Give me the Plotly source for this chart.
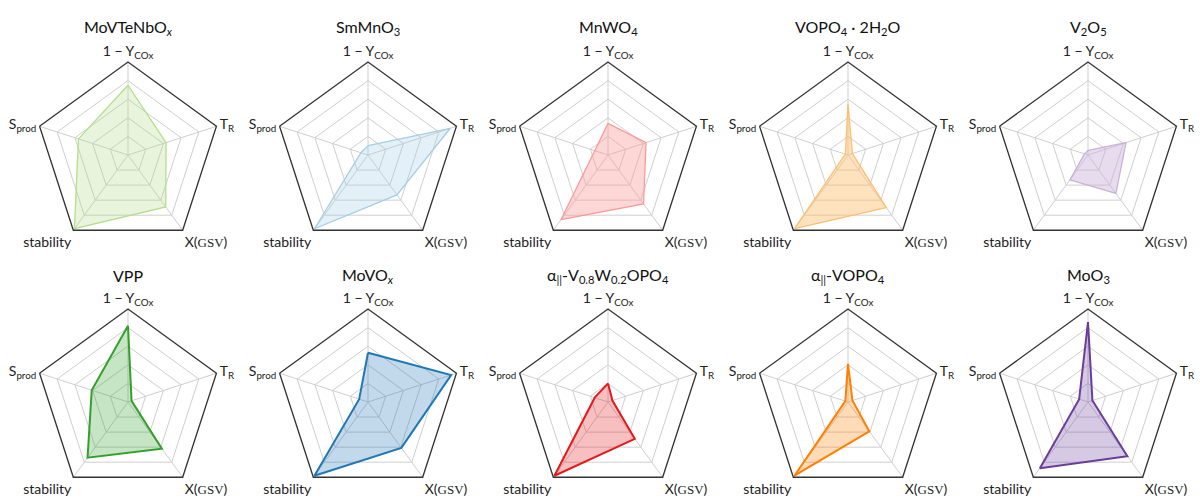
import plotly.graph_objects as go

axes_labels = [
    "1 − Y<sub>COx</sub>",
    "T<sub>R</sub>",
    "X(<span style='font-family:Liberation Serif;font-size:13px'>GSV</span>)",
    "stability",
    "S<sub>prod</sub>",
]

titles = [
    "MoVTeNbO<sub><i>x</i></sub>",
    "SmMnO<sub>3</sub>",
    "MnWO<sub>4</sub>",
    "VOPO<sub>4</sub> · 2H<sub>2</sub>O",
    "V<sub>2</sub>O<sub>5</sub>",
    "VPP",
    "MoVO<sub><i>x</i></sub>",
    "α<sub>||</sub>-V<sub>0.8</sub>W<sub>0.2</sub>OPO<sub>4</sub>",
    "α<sub>||</sub>-VOPO<sub>4</sub>",
    "MoO<sub>3</sub>",
]

# values per catalyst: [1-Y_COx, T_R, X(GSV), stability, S_prod]
movtenbox = [0.75, 0.43, 0.69, 0.98, 0.56]
smmno3 = [0.10, 0.93, 0.53, 0.98, 0.08]
mnwo4 = [0.34, 0.43, 0.65, 0.86, 0.15]
vopo4_2h2o = [0.55, 0.05, 0.70, 0.98, 0.03]
v2o5 = [0.05, 0.43, 0.51, 0.33, 0.04]
vpp = [0.82, 0.04, 0.62, 0.74, 0.41]
movox = [0.53, 0.94, 0.61, 0.98, 0.10]
avwopo4 = [0.20, 0.05, 0.49, 0.98, 0.15]
avopo4 = [0.41, 0.05, 0.39, 0.98, 0.03]
moo3 = [0.86, 0.05, 0.72, 0.88, 0.10]

series = [movtenbox, smmno3, mnwo4, vopo4_2h2o, v2o5, vpp, movox, avwopo4, avopo4, moo3]

line_colors = ["#b2df8a", "#a6cee3", "#fb9a99", "#fdbf6f", "#cab2d6",
               "#33a02c", "#1f78b4", "#e31a1c", "#ff7f00", "#6a3d9a"]
fill_colors = ["rgba(178,223,138,0.3)", "rgba(166,206,227,0.3)", "rgba(251,154,153,0.4)",
               "rgba(253,191,111,0.45)", "rgba(202,178,214,0.45)",
               "rgba(51,160,44,0.28)", "rgba(31,120,180,0.28)", "rgba(227,26,28,0.28)",
               "rgba(255,127,0,0.28)", "rgba(106,61,154,0.28)"]

W, H = 1200, 498
R = 93
centers_x = [128 + 240 * i for i in range(5)]
centers_y = [155, 402]
title_y = [27, 275]

fig = go.Figure()
annotations = []
layout_polars = {}
for k in range(10):
    row, col = divmod(k, 5)
    cx, cy = centers_x[col], centers_y[row]
    name = "polar" if k == 0 else f"polar{k+1}"
    vals = series[k]
    fig.add_trace(go.Scatterpolar(
        r=vals + [vals[0]],
        theta=axes_labels + [axes_labels[0]],
        mode="lines",
        fill="toself",
        fillcolor=fill_colors[k],
        line=dict(color=line_colors[k], width=1.3 if row == 0 else 2),
        subplot=name,
        showlegend=False,
    ))
    layout_polars[name] = dict(
        domain=dict(x=[(cx - R) / W, (cx + R) / W], y=[1 - (cy + R) / H, 1 - (cy - R) / H]),
        gridshape="linear",
        bgcolor="white",
        radialaxis=dict(range=[0, 1], dtick=0.2, showticklabels=False, ticks="",
                        showline=False, gridcolor="#cfcfcf", gridwidth=1),
        angularaxis=dict(direction="clockwise", rotation=90, type="category",
                         categoryarray=axes_labels,
                         linecolor="#333333", linewidth=1.3, showline=True,
                         gridcolor="#cfcfcf", gridwidth=1, ticks="",
                         tickfont=dict(size=14, color="#222222", family="Lato, DejaVu Sans, sans-serif")),
    )
    annotations.append(dict(
        text=titles[k], x=cx / W, y=1 - title_y[row] / H, xref="paper", yref="paper",
        showarrow=False, xanchor="center", yanchor="middle",
        font=dict(size=16, color="#111111", family="Lato, DejaVu Sans, sans-serif"),
    ))

fig.update_layout(
    width=W, height=H,
    margin=dict(l=0, r=0, t=0, b=0),
    paper_bgcolor="white",
    annotations=annotations,
    **layout_polars,
)

fig.write_html("out.html", config={"displayModeBar": False},
               post_script="document.body.style.margin='0';document.body.style.overflow='hidden';")
